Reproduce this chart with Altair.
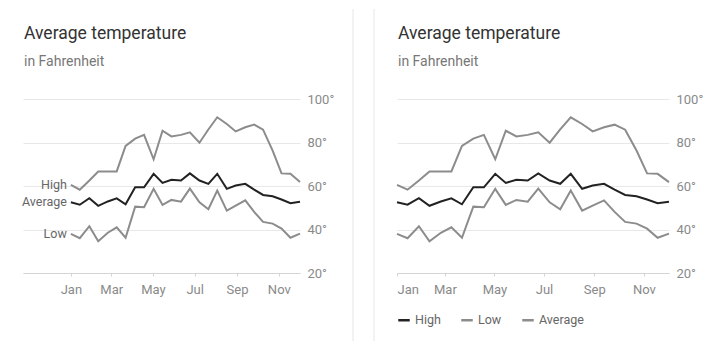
import altair as alt
import pandas as pd

# ---- data ----
title_text = "Average temperature"
subtitle_text = "in Fahrenheit"
series_names = ["High", "Average", "Low"]
# day of year of each sample (about every 13-14 days)
days = [0, 13, 27, 40, 54, 67, 80, 94, 107, 121, 134, 147, 161, 174,
        188, 201, 214, 228, 241, 255, 268, 281, 295, 308, 321, 335]
high = [60.5, 58.3, 62.5, 66.7, 66.7, 66.7, 78.4, 81.8, 83.5, 72.3, 85.4, 82.8, 83.5,
        84.7, 79.9, 86.0, 91.6, 88.5, 85.1, 87.0, 88.2, 85.9, 76.3, 65.8, 65.6, 61.8]
average = [52.5, 51.4, 54.4, 50.9, 52.9, 54.3, 51.6, 59.4, 59.4, 65.6, 61.4, 62.9, 62.5,
           65.8, 62.5, 61.0, 65.6, 58.7, 60.2, 61.0, 58.3, 55.9, 55.3, 53.8, 52.1, 52.8]
low = [38.0, 36.0, 41.5, 34.6, 38.5, 41.0, 36.2, 50.5, 50.2, 58.7, 51.3, 53.6, 52.8,
       58.8, 52.5, 49.3, 57.9, 48.7, 51.0, 53.4, 48.1, 43.5, 42.7, 40.4, 36.2, 38.1]
tick_days = [0, 59, 120, 181, 243, 304]
tick_labels = ["Jan", "Mar", "May", "Jul", "Sep", "Nov"]
y_ticks = [20, 40, 60, 80, 100]
legend_labels = ["High", "Low", "Average"]

df = pd.DataFrame({
    "day": days * 3,
    "value": high + average + low,
    "series": ["High"] * len(days) + ["Average"] * len(days) + ["Low"] * len(days),
})
label_df = pd.DataFrame({
    "day": [days[0]] * 3,
    "value": [high[0], average[0], low[0]],
    "name": series_names,
})
title_df = pd.DataFrame({"t": [title_text]})
subtitle_df = pd.DataFrame({"t": [subtitle_text]})
one_df = pd.DataFrame({"k": [0]})

FONT = "Roboto"
GRAY = "#8c8c8c"
LABEL = "#8a8a8a"

x_label_expr = "[" + ",".join("'%s'" % s for s in tick_labels) + "][indexof([" + \
    ",".join(str(d) for d in tick_days) + "], datum.value)]"
legend_expr = "datum.label == 'Average' ? '%s' : datum.label == 'High' ? '%s' : '%s'" % tuple(legend_labels)

PH = 174


def panel(width, xmin, with_labels, with_legend, border_x, anchor_x):
    x = alt.X("day:Q",
              scale=alt.Scale(domain=[xmin, days[-1]], nice=False, zero=False),
              axis=alt.Axis(values=tick_days, labelExpr=x_label_expr, grid=False,
                            domainColor="#d4d4d4", tickColor="#d4d4d4", tickSize=3,
                            labelPadding=7, labelFontSize=13, labelColor=LABEL,
                            labelFont=FONT, title=None))
    y = alt.Y("value:Q",
              scale=alt.Scale(domain=[20, 100], nice=False, zero=False),
              axis=alt.Axis(orient="right", values=y_ticks, labelExpr="datum.value + '°'",
                            grid=True, gridColor="#e8e8e8", domain=False, ticks=False,
                            tickSize=0, labelPadding=7, labelFontSize=13,
                            labelColor=LABEL, labelFont=FONT, title=None))
    if with_legend:
        legend = alt.Legend(title=None, orient="none", legendX=0, legendY=214,
                            direction="horizontal", symbolType="stroke", symbolSize=132,
                            symbolStrokeWidth=2.5, labelFontSize=12.5, labelColor="#666666",
                            labelFont=FONT, columnPadding=15, labelOffset=4,
                            labelExpr=legend_expr)
    else:
        legend = None
    color = alt.Color("series:N",
                      scale=alt.Scale(domain=["Average", "High", "Low"],
                                      range=["#222222", GRAY, GRAY]),
                      legend=legend)
    lines = alt.Chart(df).mark_line(strokeWidth=2).encode(x=x, y=y, color=color)

    layers = []
    layers.append(alt.Chart(one_df).mark_rule(color="#e6e6e6", strokeWidth=1).encode(
        x=alt.value(border_x), y=alt.value(-90), y2=alt.value(242)))
    if anchor_x is not None:
        layers.append(alt.Chart(one_df).mark_rule(strokeOpacity=0, strokeWidth=1).encode(
            x=alt.value(anchor_x), y=alt.value(-90), y2=alt.value(0)))
    layers.append(lines)
    if with_labels:
        layers.append(alt.Chart(label_df).mark_text(
            align="right", baseline="middle", dx=-4, fontSize=12.5, font=FONT,
            color="#666666").encode(x="day:Q", y="value:Q", text="name:N"))
    layers.append(alt.Chart(title_df).mark_text(
        align="left", baseline="alphabetic", fontSize=17.5, font=FONT,
        color="#333333").encode(x=alt.value(1), y=alt.value(-60.5), text="t:N"))
    layers.append(alt.Chart(subtitle_df).mark_text(
        align="left", baseline="alphabetic", fontSize=14, font=FONT,
        color="#777777").encode(x=alt.value(1), y=alt.value(-33), text="t:N"))
    return alt.layer(*layers).properties(width=width, height=PH)


left = panel(277, -70, True, False, 330, -14.5)
right = panel(272, 0, False, True, -23, None)

chart = alt.hconcat(left, right, spacing=19).resolve_scale(
    color="independent", x="independent").resolve_legend(color="independent").properties(
    padding=0, background="white").configure_view(stroke=None)

chart.save("out.html", embed_options={"renderer": "svg", "actions": False})
